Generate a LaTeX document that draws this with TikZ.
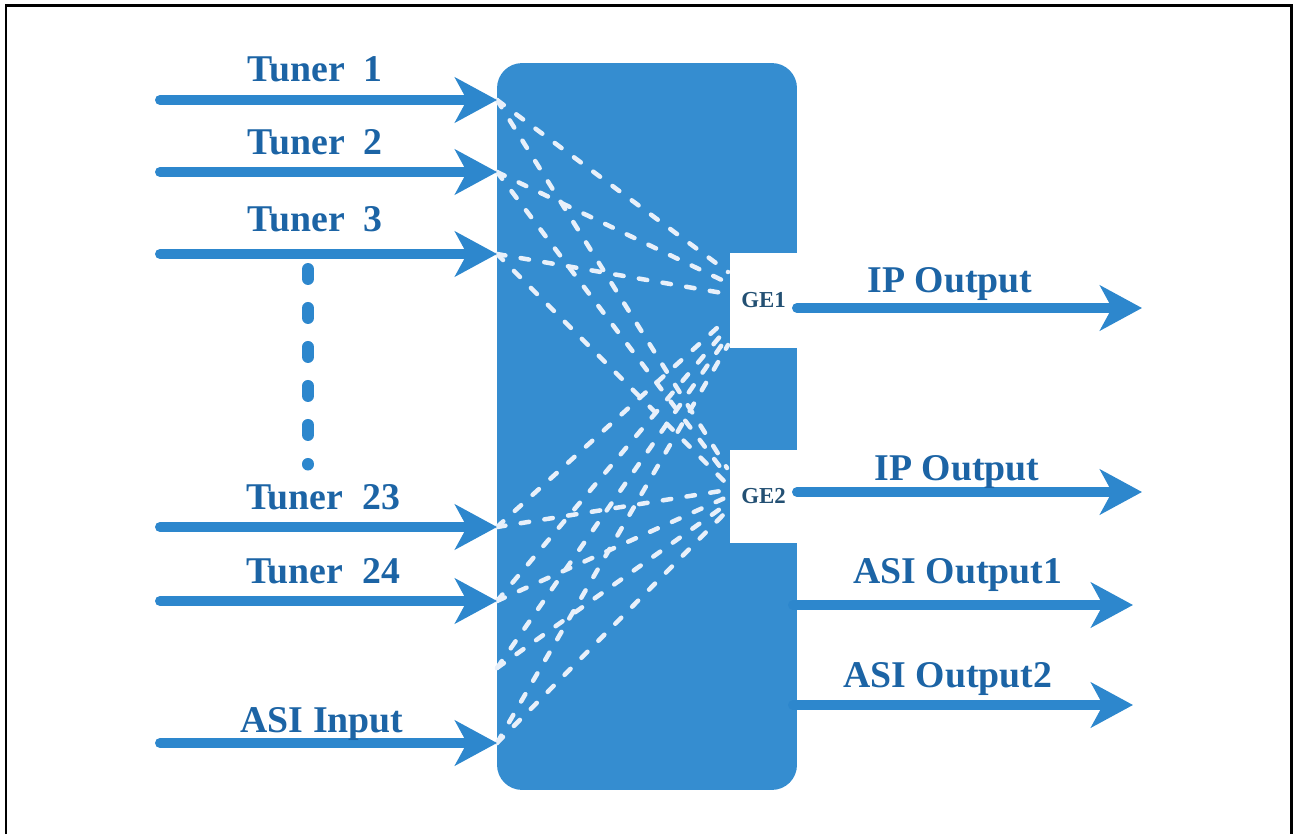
\documentclass[tikz,border=0pt]{standalone}
\usepackage{fontspec}
\setmainfont{Liberation Serif}
\usetikzlibrary{arrows.meta}

\definecolor{muxblue}{RGB}{53,141,208}
\definecolor{flowblue}{RGB}{45,135,205}
\definecolor{textblue}{RGB}{28,100,165}
\definecolor{portink}{RGB}{35,80,115}
\definecolor{linkwhite}{RGB}{232,240,250}

\begin{document}
\begin{tikzpicture}[x=0.02cm, y=-0.02cm,
    flow/.style={flowblue, line width=0.2cm, line cap=round,
      -{Stealth[length=0.84cm, width=0.9cm, inset=0.24cm]}},
    sigtext/.style={anchor=base, text=textblue, font=\bfseries\fontsize{21.5}{25}\selectfont},
    link/.style={linkwhite, line width=0.09cm, line cap=round, dash pattern=on 0.17cm off 0.31cm},
    dots/.style={flowblue, line width=0.24cm, line cap=round, dash pattern=on 0.2cm off 0.58cm},
    muxbox/.style={fill=muxblue, rounded corners=0.5cm, minimum width=6cm, minimum height=14.54cm, inner sep=0pt},
    port/.style={fill=white, minimum width=1.34cm, inner sep=0pt, text=portink,
      font=\bfseries\fontsize{13}{15}\selectfont}]
  \useasboundingbox (0,0) rectangle (1293,834);
  \draw[line width=0.06cm] (6,834) -- (6,6) -- (1291,6) -- (1291,834);

  % switching box
  \node[muxbox] (mux) at (647,426.5) {};

  % inputs
  \foreach \n/\y in {t1/100, t2/172, t3/254, t23/527, t24/601, asi/743} {
    \coordinate (\n-s) at (160,\y);
    \coordinate (\n) at (497,\y);
  }
  \coordinate (mid) at (497,668);

  % routes inside the box
  \foreach \s/\a/\b in {t1/272/468, t2/283/476, t3/294/484, t23/318/490, t24/327/497, mid/336/504, asi/345/511} {
    \coordinate (g1-\s) at (728,\a);
    \coordinate (g2-\s) at (727,\b);
    \draw[link] (\s) -- (g1-\s);
    \draw[link] (\s) -- (g2-\s);
  }

  \node[port, minimum height=1.9cm] (ge1) at (763.5,300.5) {GE1};
  \node[port, minimum height=1.86cm] (ge2) at (763.5,496.5) {GE2};

  \foreach \n in {t1, t2, t3, t23, t24, asi}
    \draw[flow] (\n-s) -- (\n);

  \node[sigtext] (t1-l) at (315,82) {Tuner\ \ 1};
  \node[sigtext] (t2-l) at (315,155) {Tuner\ \ 2};
  \node[sigtext] (t3-l) at (315,232) {Tuner\ \ 3};
  \node[sigtext] (t23-l) at (323,509) {Tuner\ \ 23};
  \node[sigtext] (t24-l) at (323,583) {Tuner\ \ 24};
  \node[sigtext] (asi-l) at (322,732) {ASI Input};

  % more tuners
  \coordinate (more-a) at (308,269);
  \coordinate (more-b) at (308,464.5);
  \draw[dots] (more-a) -- (more-b);

  % outputs
  \coordinate (o1-s) at (797,308);
  \coordinate (o1) at (1142,308);
  \coordinate (o2-s) at (797,492);
  \coordinate (o2) at (1142,492);
  \coordinate (o3-s) at (793,605);
  \coordinate (o3) at (1133,605);
  \coordinate (o4-s) at (793,705);
  \coordinate (o4) at (1133,705);
  \draw[flow] (o1-s) -- (o1);
  \draw[flow] (o2-s) -- (o2);
  \draw[flow] (o3-s) -- (o3);
  \draw[flow] (o4-s) -- (o4);

  \node[sigtext] (o1-l) at (950,293) {IP Output};
  \node[sigtext] (o2-l) at (957,480) {IP Output};
  \node[sigtext] (o3-l) at (958,583) {ASI Output1};
  \node[sigtext] (o4-l) at (948,687) {ASI Output2};
\end{tikzpicture}
\end{document}
